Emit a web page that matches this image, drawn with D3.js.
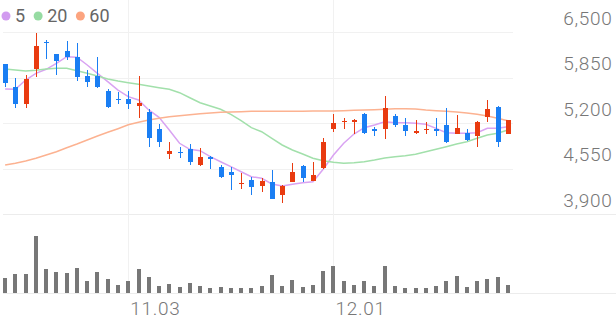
<!DOCTYPE html>
<html>
<head>
<meta charset="utf-8">
<script src="https://cdn.jsdelivr.net/npm/d3@7"></script>
<style>
  html, body { margin: 0; padding: 0; background: #fff; }
  svg { display: block; font-family: Roboto, "Noto Sans", sans-serif; }
</style>
</head>
<body>
<div id="chart"></div>
<script>
// trading days (MM.DD)
const dates = [
  "10.16","10.17","10.20","10.21","10.22","10.23","10.24","10.27","10.28","10.29",
  "10.30","10.31","11.03","11.04","11.05","11.06","11.07","11.10","11.11","11.12",
  "11.13","11.14","11.17","11.18","11.19","11.20","11.21","11.24","11.25","11.26",
  "11.27","11.28","12.01","12.02","12.03","12.04","12.05","12.08","12.09","12.10",
  "12.11","12.12","12.15","12.16","12.17","12.18","12.19","12.22","12.23","12.24"
];
const open = [
  6040,5720,5470,5970,6360,6180,6230,6150,5870,5870,
  5660,5550,5540,5440,5360,5110,4755,4790,4825,4600,
  4720,4575,4495,4330,4385,4305,4360,4170,4360,4590,
  4375,4555,5110,5210,5220,5330,5120,5110,5300,5170,
  5060,5100,5110,5170,5050,5060,5010,5280,5430,5050
];
const high = [
  6050,5840,5890,6480,6390,6190,6370,6340,5960,6150,
  5680,5650,5660,5870,5400,5180,4935,4860,4895,4840,
  4725,4600,4575,4490,4435,4410,4530,4315,4635,4600,
  4645,4980,5330,5270,5260,5340,5150,5580,5330,5270,
  5250,5210,5270,5420,5310,5120,5230,5530,5440,5250
];
const low = [
  5710,5410,5410,5860,6110,5880,6100,5800,5710,5700,
  5420,5470,5400,5270,4855,4860,4685,4695,4600,4590,
  4540,4410,4245,4255,4170,4220,4110,4060,4355,4360,
  4370,4540,5070,5120,5040,5050,5010,4970,5150,5010,
  5040,5040,5010,4920,5040,4940,4855,5220,4855,5040
];
const close = [
  5770,5470,5830,6300,6340,6090,6140,5860,5780,5710,
  5430,5530,5470,5490,4990,4935,4800,4765,4645,4710,
  4680,4425,4455,4345,4280,4375,4115,4300,4505,4420,
  4455,4935,5200,5230,5250,5060,5090,5410,5170,5080,
  5090,5120,5080,4925,5130,4960,5220,5400,4935,5240
];
const volume = [
  153,187,193,573,237,213,197,253,117,207,
  137,80,123,237,163,73,90,63,97,67,
  53,60,53,53,47,73,180,73,133,57,
  77,217,267,123,83,117,67,267,70,50,
  47,47,67,123,170,63,117,140,163,80
];
const ma5 = [
  5686,5681,5814,5910,5967,6053,6147,6139,6029,5910,
  5790,5671,5576,5529,5386,5281,5100,4910,4824,4804,
  4719,4647,4576,4504,4433,4410,4329,4300,4324,4347,
  4361,4539,4743,4910,5043,5133,5171,5219,5204,5204,
  5196,5181,5124,5061,5053,5053,5061,5124,5124,5147
];
const ma20 = [
  5971,5957,5943,5953,5971,5981,5981,5947,5910,5871,
  5829,5800,5776,5753,5729,5704,5681,5633,5561,5490,
  5443,5396,5324,5233,5133,5076,4981,4886,4814,4757,
  4696,4661,4639,4624,4633,4647,4671,4700,4719,4733,
  4753,4790,4824,4861,4900,4933,4981,5029,5053,5100
];
const ma60 = [
  4600,4624,4657,4696,4743,4790,4847,4900,4957,5014,
  5067,5119,5174,5210,5243,5267,5290,5304,5319,5333,
  5343,5353,5357,5361,5367,5367,5367,5367,5367,5367,
  5371,5371,5371,5376,5381,5386,5390,5396,5404,5404,
  5400,5386,5376,5367,5357,5343,5324,5300,5267,5233
];
const priceTicks = [6500, 5850, 5200, 4550, 3900];
const dateTicks = ["11.03", "12.01"];
const maSeries = [
  { name: "5", values: ma5, color: "#d9a3f2", dot: "#d29cf0" },
  { name: "20", values: ma20, color: "#a2e0ab", dot: "#96dba2" },
  { name: "60", values: ma60, color: "#fcb291", dot: "#fca47f" }
];

const width = 616, height = 321;
const upColor = "#e93b10", downColor = "#1a7ef3";

const svg = d3.select("#chart").append("svg")
  .attr("width", width)
  .attr("height", height);

const x = d3.scaleBand().domain(dates).range([0, 513]);
const cx = d => x(d) + x.bandwidth() / 2;
const y = d3.scaleLinear().domain([3900, 6500]).range([214, 32]);
const yVol = d3.scaleLinear().domain([0, 790]).range([293, 214]);

// grid
const grid = svg.append("g").attr("shape-rendering", "crispEdges");
grid.selectAll("line.h")
  .data(priceTicks.slice(0, 4))
  .enter().append("line")
  .attr("x1", 3).attr("x2", 513)
  .attr("y1", d => Math.round(y(d)) + 0.5).attr("y2", d => Math.round(y(d)) + 0.5)
  .attr("stroke", "#f1f1f1");
grid.selectAll("line.b")
  .data([y(3900), yVol(0)])
  .enter().append("line")
  .attr("x1", 3).attr("x2", width)
  .attr("y1", d => Math.round(d) + 0.5).attr("y2", d => Math.round(d) + 0.5)
  .attr("stroke", "#ececec");
grid.selectAll("line.v")
  .data(dateTicks)
  .enter().append("line")
  .attr("x1", d => Math.round(cx(d)) + 0.5).attr("x2", d => Math.round(cx(d)) + 0.5)
  .attr("y1", 0).attr("y2", yVol(0))
  .attr("stroke", "#f1f1f1");

// price labels
svg.append("g").selectAll("text")
  .data(priceTicks)
  .enter().append("text")
  .attr("x", 612.5)
  .attr("y", d => y(d) - 7.5)
  .attr("text-anchor", "end")
  .attr("font-size", 19)
  .attr("font-weight", 300)
  .attr("letter-spacing", 0.7)
  .attr("fill", "#777")
  .text(d => d3.format(",")(d));

// date labels
svg.append("g").selectAll("text")
  .data(dateTicks)
  .enter().append("text")
  .attr("x", d => cx(d) + 2)
  .attr("y", 315)
  .attr("font-size", 19)
  .attr("font-weight", 300)
  .attr("letter-spacing", 0.7)
  .attr("fill", "#777")
  .text(d => d);

// moving averages
const line = d3.line()
  .x((d, i) => cx(dates[i]))
  .y(d => y(d));
svg.append("g").selectAll("path")
  .data(maSeries)
  .enter().append("path")
  .attr("d", s => line(s.values))
  .attr("fill", "none")
  .attr("stroke", s => s.color)
  .attr("stroke-width", 1.5);

// candles
const candles = svg.append("g").attr("shape-rendering", "crispEdges");
const idx = d3.range(dates.length);
const col = i => close[i] >= open[i] ? upColor : downColor;
candles.selectAll("line")
  .data(idx)
  .enter().append("line")
  .attr("x1", i => Math.round(cx(dates[i])) + 0.5)
  .attr("x2", i => Math.round(cx(dates[i])) + 0.5)
  .attr("y1", i => y(high[i]))
  .attr("y2", i => y(low[i]))
  .attr("stroke", col)
  .attr("stroke-width", 1);
candles.selectAll("rect")
  .data(idx)
  .enter().append("rect")
  .attr("x", i => Math.round(cx(dates[i])) - 2)
  .attr("width", 5)
  .attr("y", i => y(Math.max(open[i], close[i])))
  .attr("height", i => Math.max(1.5, Math.abs(y(open[i]) - y(close[i]))))
  .attr("fill", col);

// volume
svg.append("g").attr("shape-rendering", "crispEdges")
  .selectAll("rect")
  .data(idx)
  .enter().append("rect")
  .attr("x", i => Math.round(cx(dates[i])) - 2)
  .attr("width", 4)
  .attr("y", i => yVol(volume[i]))
  .attr("height", i => yVol(0) - yVol(volume[i]))
  .attr("fill", "#777");

// legend
const legend = svg.append("g");
let lx = 6;
maSeries.forEach(s => {
  legend.append("circle")
    .attr("cx", lx).attr("cy", 16).attr("r", 4.5)
    .attr("fill", s.dot);
  const t = legend.append("text")
    .attr("x", lx + 9).attr("y", 22)
    .attr("font-size", 18)
    .attr("fill", "#666")
    .text(s.name);
  lx += 9 + t.node().getComputedTextLength() + 13;
});
</script>
</body>
</html>
